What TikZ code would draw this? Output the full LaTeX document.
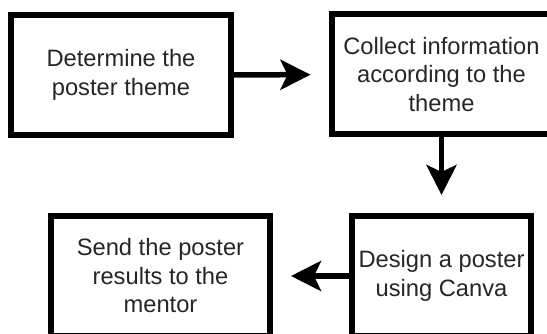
\documentclass[tikz,border=0pt]{standalone}
\usepackage{fontspec}
\setmainfont{Liberation Sans}
\usepackage{tikz, xcolor}
\usetikzlibrary{shapes,arrows.meta}

\begin{document}
\begin{tikzpicture}[x=1pt, y=-1pt]
\tikzstyle{stepbox}=[rectangle, draw=black, line width=6pt, minimum height=120pt, inner sep=0pt, align=center, text=black!85, font=\fontsize{23.7}{28.5}\selectfont]
\tikzstyle{drawstyle}=[line width=5.5pt, -{Stealth[length=30pt, width=30pt, inset=7pt]}, shorten >=18pt]

\useasboundingbox (0,0) rectangle (547,334);
\clip (0,0) rectangle (547,334);

\node[stepbox, minimum width=220pt] (B0x0) at (121,75) {Determine the\\poster theme};
\node[stepbox, minimum width=220pt] (B1x0) at (441.5,74.5) {Collect information\\according to the\\theme};
\draw[drawstyle] (B0x0) -- (B1x0);
\node[stepbox, minimum width=179pt] (B1x1) at (441.5,276) {Design a poster\\using Canva};
\draw[drawstyle] (B1x0) -- (B1x1);
\node[stepbox, minimum width=219pt] (B0x1) at (160.5,276) {Send the poster\\results to the\\mentor};
\draw[drawstyle] (B1x1) -- (B0x1);
\end{tikzpicture}
\end{document}
